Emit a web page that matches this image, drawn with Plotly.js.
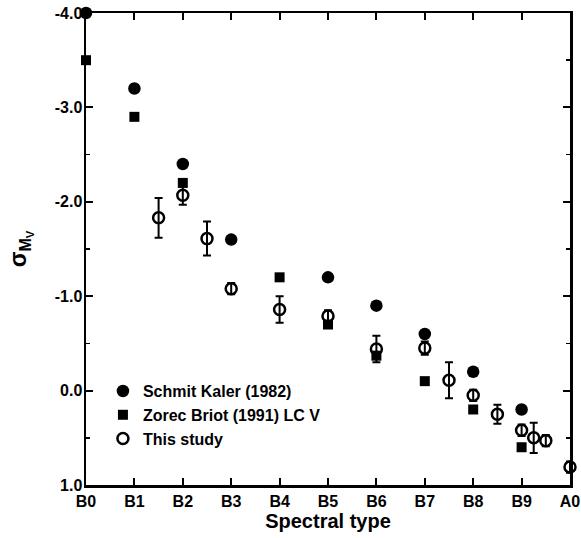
<!DOCTYPE html>
<html>
<head>
<meta charset="utf-8">
<script src="https://cdn.plot.ly/plotly-3.0.1.min.js"></script>
<style>
  html, body { margin: 0; padding: 0; background: #fff; }
  #chart { width: 581px; height: 538px; }
</style>
</head>
<body>
<div id="chart"></div>
<script>
// Spectral type positions: B0 = 0 ... B9 = 9, A0 = 10
const typeTicks = [0, 1, 2, 3, 4, 5, 6, 7, 8, 9, 10];
const typeLabels = ['B0', 'B1', 'B2', 'B3', 'B4', 'B5', 'B6', 'B7', 'B8', 'B9', 'A0'];

const sigmaTicks = [-4, -3, -2, -1, 0, 1];
const sigmaLabels = ['-4.0', '-3.0', '-2.0', '-1.0', '0.0', '1.0'];

// Schmit Kaler (1982)
const skType = [0, 1, 2, 3, 5, 6, 7, 8, 9];
const skSigma = [-4.0, -3.2, -2.4, -1.6, -1.2, -0.9, -0.6, -0.2, 0.2];

// Zorec Briot (1991), luminosity class V
const zbType = [0, 1, 2, 4, 5, 6, 7, 8, 9];
const zbSigma = [-3.5, -2.9, -2.2, -1.2, -0.7, -0.37, -0.1, 0.2, 0.6];

// This study, with uncertainties
const tsType = [1.5, 2, 2.5, 3, 4, 5, 6, 7, 7.5, 8, 8.5, 9, 9.25, 9.5, 10];
const tsSigma = [-1.83, -2.07, -1.61, -1.08, -0.86, -0.79, -0.44, -0.45, -0.11, 0.05, 0.25, 0.42, 0.5, 0.53, 0.81];
const tsErr = [0.21, 0.1, 0.18, 0.06, 0.14, 0.06, 0.14, 0.07, 0.19, 0.06, 0.1, 0.06, 0.16, 0.06, 0.06];

const FONT = 'Liberation Sans, Arial, sans-serif';

const traces = [
  {
    x: skType, y: skSigma, type: 'scatter', mode: 'markers',
    name: '<b>Schmit Kaler (1982)</b>',
    marker: { symbol: 'circle', size: 12.5, color: '#000' },
    cliponaxis: false
  },
  {
    x: zbType, y: zbSigma, type: 'scatter', mode: 'markers',
    name: '<b>Zorec Briot (1991) LC V</b>',
    marker: { symbol: 'square', size: 10, color: '#000' },
    cliponaxis: false
  },
  {
    x: tsType, y: tsSigma, type: 'scatter', mode: 'markers',
    name: '<b>This study</b>',
    // open circles: the error bar shows through the ring
    marker: { symbol: 'circle', size: 11, color: 'rgba(255,255,255,0)', line: { color: '#000', width: 2.5 } },
    error_y: { type: 'data', array: tsErr, visible: true, color: '#000', thickness: 2, width: 4 },
    cliponaxis: false
  }
];

const axisCommon = {
  showgrid: false, zeroline: false,
  showline: true, linecolor: '#000', linewidth: 2.5,
  mirror: 'ticks', ticks: 'inside', tickcolor: '#000', tickwidth: 2, ticklen: 7,
  tickfont: { family: FONT, size: 16, color: '#000', weight: 'bold' }
};

const layout = {
  width: 581, height: 538,
  margin: { l: 86, r: 11, t: 13, b: 53 },
  paper_bgcolor: '#fff', plot_bgcolor: '#fff',
  showlegend: true,
  legend: {
    x: 0.035, y: 0.235, xanchor: 'left', yanchor: 'top',
    bgcolor: 'rgba(0,0,0,0)', borderwidth: 0,
    font: { family: FONT, size: 16, color: '#000' },
    itemwidth: 30, tracegroupgap: 0
  },
  xaxis: Object.assign({}, axisCommon, {
    range: [0, 10],
    tickmode: 'array', tickvals: typeTicks, ticktext: typeLabels,
    title: { text: '<b>Spectral type</b>', font: { family: FONT, size: 20, color: '#000' }, standoff: 6 }
  }),
  yaxis: Object.assign({}, axisCommon, {
    range: [1, -4],
    tickmode: 'array', tickvals: sigmaTicks, ticktext: sigmaLabels,
    ticklabelstandoff: -2,
    minor: { dtick: 0.5, ticks: 'inside', ticklen: 4, tickcolor: '#000', tickwidth: 1.5 },
    title: { text: '<b>σ<sub>M<sub>V</sub></sub></b>', font: { family: FONT, size: 23, color: '#000' }, standoff: 22 }
  })
};

Plotly.newPlot('chart', traces, layout, { displayModeBar: false, staticPlot: true });
</script>
</body>
</html>
